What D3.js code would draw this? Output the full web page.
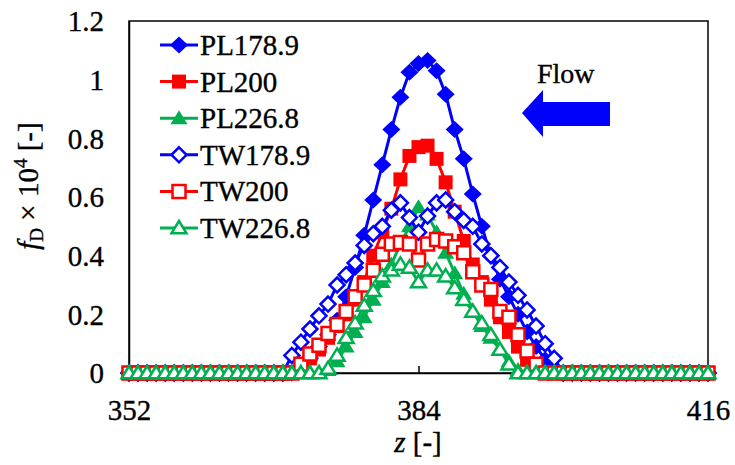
<!DOCTYPE html>
<html><head><meta charset="utf-8">
<script src="https://cdn.jsdelivr.net/npm/d3@7"></script>
<style>
html,body{margin:0;padding:0;background:#fff;}
</style></head>
<body><svg id="c" width="735" height="465" font-family="'Liberation Serif', 'Times New Roman', Tinos, 'DejaVu Serif', serif"></svg>
<script>
const FONT = "'Liberation Serif', 'Times New Roman', Tinos, 'DejaVu Serif', serif";
const zValues = [352,353,354,355,356,357,358,359,360,361,362,363,364,365,366,367,368,369,
370,371,372,373,374,375,376,377,378,379,380,381,382,383,384,385,386,387,388,389,390,
391,392,393,394,395,396,397,398,399,400,401,402,403,404,405,406,407,408,409,410,411,412,413,414,415,416];
const xTicks = [352,384,416];
const yTicks = [0,0.2,0.4,0.6,0.8,1,1.2];
const seriesNames = ["PL178.9","PL200","PL226.8","TW178.9","TW200","TW226.8"];
const Z18 = [0,0,0,0,0,0,0,0,0,0,0,0,0,0,0,0,0,0];
const Z16 = [0,0,0,0,0,0,0,0,0,0,0,0,0,0,0,0];
const pl1789 = Z18.concat([0,0.02,0.05,0.09,0.13,0.18,0.26,0.36,0.47,0.59,0.71,0.83,0.94,1.025,1.055,1.065,1.03,0.95,0.83,0.73,0.61,0.50,0.40,0.32,0.26,0.20,0.14,0.09,0.045,0.01,0]).concat(Z16);
const pl200 = Z18.concat([0,0.02,0.05,0.08,0.12,0.16,0.20,0.25,0.31,0.40,0.48,0.56,0.66,0.74,0.77,0.775,0.73,0.65,0.55,0.45,0.37,0.31,0.25,0.19,0.14,0.09,0.045,0.015,0,0,0]).concat(Z16);
const pl2268 = Z18.concat([0,0,0,0,0.01,0.04,0.09,0.14,0.19,0.25,0.31,0.37,0.44,0.50,0.565,0.54,0.48,0.41,0.34,0.27,0.21,0.16,0.12,0.08,0.04,0.01,0,0,0,0,0]).concat(Z16);
const tw1789 = Z18.concat([0.06,0.105,0.15,0.195,0.235,0.30,0.335,0.375,0.435,0.475,0.50,0.555,0.58,0.53,0.48,0.535,0.58,0.59,0.55,0.52,0.50,0.44,0.40,0.36,0.31,0.265,0.215,0.16,0.10,0.05,0]).concat(Z16);
const tw200 = Z18.concat([0,0.03,0.065,0.095,0.135,0.165,0.21,0.26,0.30,0.35,0.405,0.44,0.445,0.44,0.385,0.44,0.455,0.45,0.43,0.41,0.345,0.30,0.285,0.21,0.19,0.13,0.075,0.03,0,0,0]).concat(Z16);
const tw2268 = Z18.concat([0,0,0,0,0.015,0.06,0.12,0.17,0.23,0.28,0.33,0.35,0.37,0.36,0.31,0.35,0.35,0.33,0.29,0.25,0.21,0.17,0.13,0.08,0.03,0,0,0,0,0,0]).concat(Z16);
const seriesValues = [pl1789,pl200,pl2268,tw1789,tw200,tw2268];
const seriesColors = ["#0000ff","#ff0000","#00b050","#0000ff","#ff0000","#00b050"];
const seriesShapes = ["diamond","square","triangle","diamond","square","triangle"];
const seriesFilled = [true,true,true,false,false,false];

const svg = d3.select("#c");
const L=129,R=708,T=21,B=373;
const x = d3.scaleLinear().domain([352,416]).range([L,R]);
const y = d3.scaleLinear().domain([0,1.2]).range([B,T]);

function shapePath(s, filled){
  if(s==="diamond"){ const a=filled?9:7.5, b=filled?8.5:7.5; return `M0,${-b}L${a},0L0,${b}L${-a},0Z`; }
  if(s==="square"){ const h=filled?7:6.5; return `M${-h},${-h}H${h}V${h}H${-h}Z`; }
  const w=filled?8.5:7.5, hh=filled?8:7;
  return `M0,${-hh}L${w},${hh*0.75}L${-w},${hh*0.75}Z`;
}
function txt(sel){ return sel.attr("font-family",FONT).attr("stroke","#000").attr("stroke-width",0.35); }

// frame
svg.append("rect").attr("x",L).attr("y",T).attr("width",R-L).attr("height",B-T)
  .attr("fill","none").attr("stroke","#000").attr("stroke-width",1.5);

// x axis
const xAxis = d3.axisBottom(x).tickValues(xTicks).tickSize(-7).tickFormat(d3.format("d")).tickPadding(0);
const gx = svg.append("g").attr("transform",`translate(0,${B})`).call(xAxis);
gx.attr("font-family",FONT);
gx.select(".domain").attr("stroke","#000").attr("stroke-width",1.5);
gx.selectAll(".tick line").attr("stroke","#000").attr("stroke-width",1.5);
txt(gx.selectAll(".tick text").attr("font-size",29).attr("y",47).attr("dy",0));

// y axis
const yAxis = d3.axisLeft(y).tickValues(yTicks).tickSize(0).tickPadding(25).tickFormat(d=>String(d));
const gy = svg.append("g").attr("transform",`translate(${L},0)`).call(yAxis);
gy.attr("font-family",FONT);
gy.select(".domain").attr("stroke","#000").attr("stroke-width",1.5);
txt(gy.selectAll(".tick text").attr("font-size",29).attr("dy","0.34em"));

// series
const line = d3.line().x((d,i)=>x(zValues[i])).y(d=>y(d));
seriesValues.forEach((vals,k)=>{
  const g = svg.append("g");
  g.append("path").attr("d",line(vals)).attr("fill","none").attr("stroke",seriesColors[k]).attr("stroke-width",3);
  g.selectAll("path.m").data(vals).enter().append("path").attr("class","m")
    .attr("transform",(d,i)=>`translate(${x(zValues[i])},${y(d)})`)
    .attr("d",shapePath(seriesShapes[k],seriesFilled[k]))
    .attr("fill",seriesFilled[k]?seriesColors[k]:"#fff")
    .attr("stroke",seriesColors[k]).attr("stroke-width",seriesFilled[k]?0:2.5);
});

// legend
const legY0=45, legDy=36.6;
seriesNames.forEach((n,k)=>{
  const yy = legY0+k*legDy;
  svg.append("line").attr("x1",160).attr("x2",198).attr("y1",yy).attr("y2",yy)
    .attr("stroke",seriesColors[k]).attr("stroke-width",3);
  svg.append("path").attr("transform",`translate(179,${yy})`).attr("d",shapePath(seriesShapes[k],seriesFilled[k]))
    .attr("fill",seriesFilled[k]?seriesColors[k]:"#fff").attr("stroke",seriesColors[k]).attr("stroke-width",seriesFilled[k]?0:2.5);
  txt(svg.append("text").attr("x",200).attr("y",yy+10).attr("font-size",29)).text(n);
});

// flow arrow
txt(svg.append("text").attr("x",537).attr("y",83).attr("font-size",28)).text("Flow");
svg.append("path").attr("d","M522,113 L543,90 L543,102 L610,102 L610,126 L543,126 L543,137 Z").attr("fill","#0000ff");

// axis titles
const yt = txt(svg.append("text").attr("transform","translate(38,186) rotate(-90)").attr("text-anchor","middle").attr("font-size",29));
yt.append("tspan").attr("font-style","italic").text("f");
yt.append("tspan").attr("font-size",19).attr("dy",5).text("D");
yt.append("tspan").attr("dy",-5).text(" \u00d7 10");
yt.append("tspan").attr("font-size",19).attr("dy",-11).text("4");
yt.append("tspan").attr("dy",11).text(" [-]");
const xt = txt(svg.append("text").attr("x",418).attr("y",452).attr("text-anchor","middle").attr("font-size",29));
xt.append("tspan").attr("font-style","italic").text("z");
xt.append("tspan").text(" [-]");
</script></body></html>
